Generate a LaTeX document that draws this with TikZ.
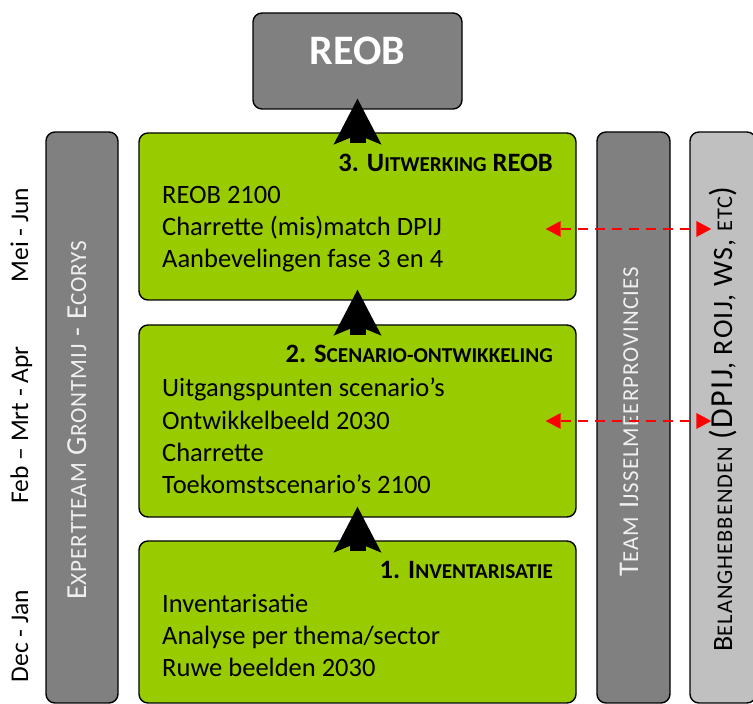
\documentclass[tikz,border=0pt]{standalone}
\usepackage{fontspec}
\setmainfont{Carlito}
\usetikzlibrary{arrows.meta}
\definecolor{phasegreen}{HTML}{99CC00}
\definecolor{teamgray}{HTML}{808080}
\definecolor{stakegray}{HTML}{C0C0C0}
\makeatletter
% fake small caps: capitals at 80 percent of the current size
\newcommand{\fsc}[1]{{\fontsize{\fpeval{0.8*\f@size}}{\f@baselineskip}\selectfont #1}}
\makeatother

\begin{document}
\begin{tikzpicture}[x=1pt,y=1pt,
    box/.style={draw=black, line width=1.4pt, rounded corners=9pt, inner sep=0pt},
    phase/.style={box, fill=phasegreen, minimum width=437pt},
    column/.style={box, minimum height=571pt},
    title/.style={font=\fontsize{26.5}{32.4}\selectfont\bfseries, anchor=base east, inner sep=0pt},
    items/.style={font=\fontsize{26.5}{32.4}\selectfont, align=left, anchor=base west, inner sep=0pt},
    collabel/.style={rotate=90, anchor=base, inner sep=0pt},
    timelabel/.style={rotate=90, anchor=base, inner sep=0pt, font=\fontsize{25.5}{25.5}\selectfont},
    flow/.style={-{Stealth[length=46pt, width=48pt, inset=10pt, line width=0pt]}, line width=16pt},
    link/.style={{Triangle[length=15pt, width=16pt, line width=0pt]}-{Triangle[length=15pt, width=16pt, line width=0pt]},
      red, line width=2.6pt, dash pattern=on 10pt off 7pt}]
  \useasboundingbox (0,0) rectangle (753,704);

  % result on top
  \node[box, fill=teamgray, minimum width=209pt, minimum height=96pt] (reob) at (357.5,643) {};
  \node[anchor=base, inner sep=0pt, text=white, font=\fontsize{42}{42}\selectfont\bfseries]
    (reobname) at ([yshift=-4pt]reob.center) {REOB};

  % the three phases (items: base = last line)
  \node[phase, minimum height=167pt] (ph3) at (357.5,487.5) {};
  \node[phase, minimum height=192pt] (ph2) at (357.5,283) {};
  \node[phase, minimum height=162pt] (ph1) at (357.5,82) {};

  \node[title] (ph3title) at (553,532) {3. U\fsc{ITWERKING} REOB};
  \node[items] (ph3items) at (162,436) {REOB 2100\\Charrette (mis)match DPIJ\\Aanbevelingen fase 3 en 4};

  \node[title] (ph2title) at (553,341) {2. S\fsc{CENARIO-ONTWIKKELING}};
  \node[items] (ph2items) at (162,210) {Uitgangspunten scenario’s\\Ontwikkelbeeld 2030\\Charrette\\Toekomstscenario’s 2100};

  \node[title] (ph1title) at (553,125) {1. I\fsc{NVENTARISATIE}};
  \node[items] (ph1items) at (162,27) {Inventarisatie\\Analyse per thema/sector\\Ruwe beelden 2030};

  % side columns
  \node[column, fill=teamgray, minimum width=72pt] (expert) at (82,286.5) {};
  \node[column, fill=teamgray, minimum width=73pt] (team) at (633.5,286.5) {};
  \node[column, fill=stakegray, minimum width=66pt] (stake) at (723,286.5) {};

  \node[collabel, text=white!94!black, font=\fontsize{29}{29}\selectfont\addfontfeature{LetterSpace=4}]
    (expertname) at ([xshift=4pt,yshift=-2.5pt]expert.center) {E\fsc{XPERTTEAM} G\fsc{RONTMIJ} - E\fsc{CORYS}};
  \node[collabel, text=white!94!black, font=\fontsize{28.5}{28.5}\selectfont\addfontfeature{LetterSpace=5}]
    (teamname) at ([xshift=4.5pt,yshift=-4pt]team.center) {T\fsc{EAM} I\fsc{JSSELMEERPROVINCIES}};
  \node[collabel, text=black, font=\fontsize{28}{28}\selectfont\addfontfeature{LetterSpace=4.5}]
    (stakename) at ([xshift=9pt,yshift=-1.5pt]stake.center)
    {B\fsc{ELANGHEBBENDEN} {\fontsize{32}{32}\selectfont(DPIJ}, ROIJ, WS, \fsc{ETC}{\fontsize{32}{32}\selectfont)}};

  % time line
  \node[timelabel] (t3) at (28,469) {Mei - Jun};
  \node[timelabel] (t2) at (28,279) {Feb – Mrt - Apr};
  \node[timelabel] (t1) at (28,68) {Dec - Jan};

  % flow between the phases
  \draw[flow] ([yshift=-11pt]ph1.north) -- ([yshift=11pt]ph2.south);
  \draw[flow] ([yshift=-11pt]ph2.north) -- ([yshift=11pt]ph3.south);
  \draw[flow] ([yshift=-11pt]ph3.north) -- ([yshift=11pt]reob.south);

  % exchange with the stakeholders
  \draw[link] ([xshift=-31pt,yshift=-12.5pt]ph3.east) -- ([xshift=22pt,yshift=-12.5pt]ph3.east -| stake.west);
  \draw[link] ([xshift=-31pt]ph2.east) -- ([xshift=22pt]ph2.east -| stake.west);
\end{tikzpicture}
\end{document}
